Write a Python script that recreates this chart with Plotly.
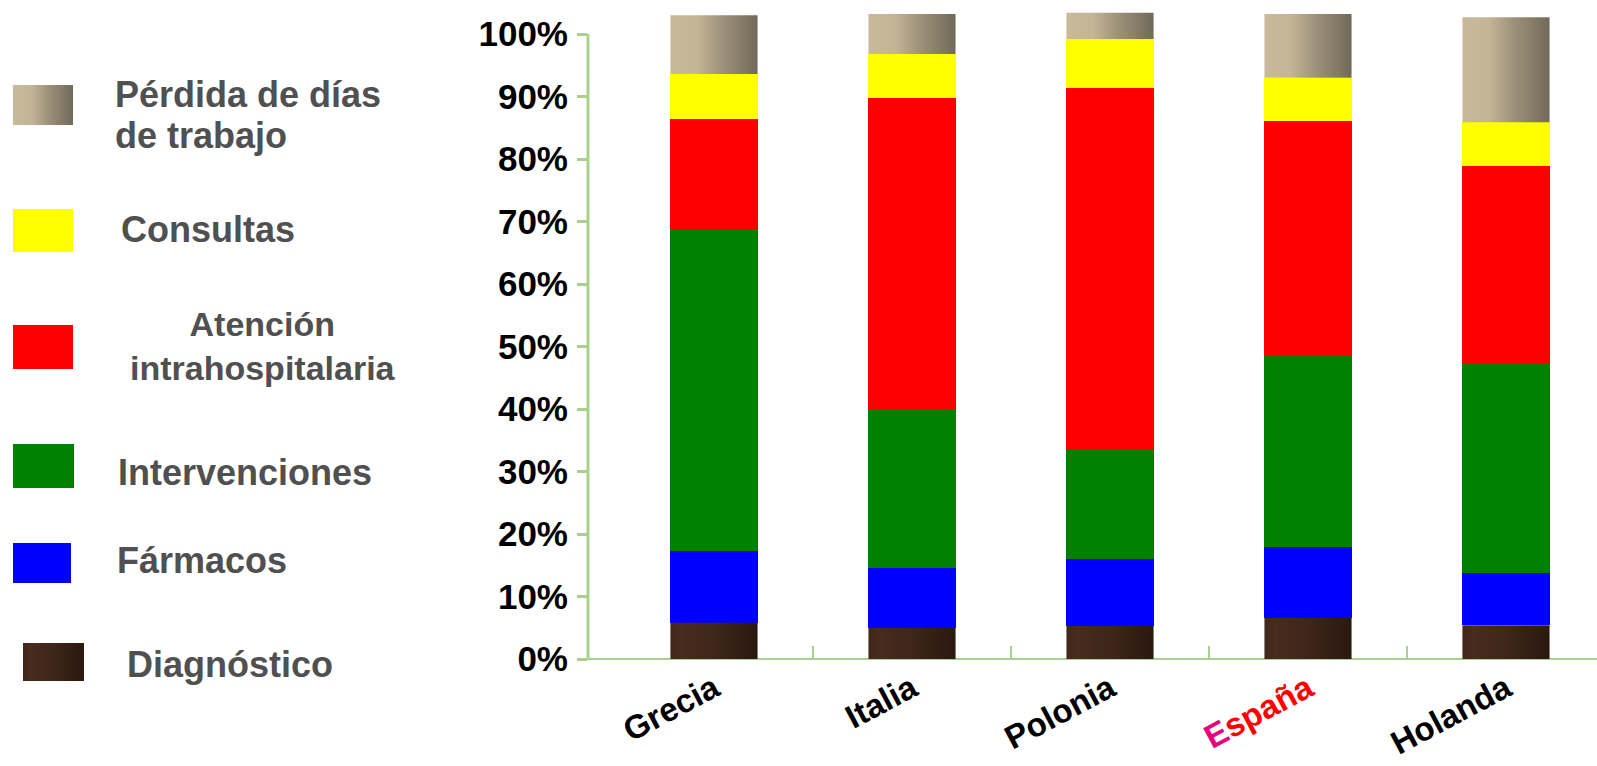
import plotly.graph_objects as go

# Cost breakdown (% of total) per country, stacked bottom to top
countries = ["Grecia", "Italia", "Polonia", "España", "Holanda"]
diagnostico = [5.8, 5.0, 5.3, 6.6, 5.4]
farmacos = [11.5, 9.6, 10.7, 11.3, 8.4]
intervenciones = [51.5, 25.3, 17.5, 30.8, 33.5]
atencion = [17.6, 49.9, 57.9, 37.4, 31.6]
consultas = [7.2, 7.0, 7.8, 6.9, 7.0]
perdida = [9.4, 6.4, 4.2, 10.2, 16.8]

y_ticks = [0, 10, 20, 30, 40, 50, 60, 70, 80, 90, 100]
y_tick_labels = [f"{v}%" for v in y_ticks]

FONT = "Arial, 'Liberation Sans', sans-serif"
AXIS_GREEN = "#a9d18e"
TEXT_GREY = "#505050"

GRAD_PERDIDA = [[0, "#c9b99b"], [0.3, "#c5b597"], [0.6, "#9c9079"], [1, "#716a59"]]
GRAD_DIAG = [[0, "#3f271b"], [0.12, "#482c1d"], [0.5, "#3e261b"], [1, "#2b180f"]]

# series in stacking order: (name, values, solid colour or gradient)
series = [
    ("Diagnóstico", diagnostico, None, GRAD_DIAG),
    ("Fármacos", farmacos, "#0000ff", None),
    ("Intervenciones", intervenciones, "#008000", None),
    ("Atención intrahospitalaria", atencion, "#ff0000", None),
    ("Consultas", consultas, "#ffff00", None),
    ("Pérdida de días de trabajo", perdida, None, GRAD_PERDIDA),
]

BAR_W = 0.44
W, H = 1597, 766
PLOT_BOTTOM = 660          # pixel row of the category axis
MARGIN_B = 85
PAPER_H = H - MARGIN_B
AXIS_LEFT = 588

fig = go.Figure()

xs = list(range(len(countries)))
base = [0.0] * len(countries)
for name, vals, color, grad in series:
    if grad is None:
        fig.add_trace(go.Bar(
            x=xs, y=vals, base=base[:], width=BAR_W, name=name,
            marker=dict(color=color, line=dict(width=0)),
            showlegend=False, xaxis="x", yaxis="y",
        ))
    else:
        # each gradient segment is a filled polygon so the shading spans one bar
        for i, v in enumerate(vals):
            b0, b1 = base[i], base[i] + v
            x0, x1 = xs[i] - BAR_W / 2, xs[i] + BAR_W / 2
            fig.add_trace(go.Scatter(
                x=[x0, x1, x1, x0, x0], y=[b0, b0, b1, b1, b0],
                mode="lines", line=dict(width=0), fill="toself",
                fillcolor=grad[1][1],
                fillgradient=dict(type="horizontal", colorscale=grad),
                showlegend=False, hoverinfo="skip", name=name,
                xaxis="x", yaxis="y",
            ))
    base = [b + v for b, v in zip(base, vals)]

# ---- legend panel drawn on its own pixel-scaled axes ----
legend_items = [
    # (label lines, swatch box x0,x1,y0,y1, text x, text centre y, anchor, size, colour/gradient)
    (["Pérdida de días", "de trabajo"], (13, 73, 85, 125), 113, [94, 135], "left", 36, GRAD_PERDIDA),
    (["Consultas"], (13, 73, 209, 252), 119, [229], "left", 36, "#ffff00"),
    (["Atención<br>intrahospitalaria"], (13, 73, 325, 369), 263, [346], "center", 34, "#ff0000"),
    (["Intervenciones"], (13, 74, 444, 488), 116, [472], "left", 36, "#008000"),
    (["Fármacos"], (13, 71, 543, 583), 115, [560], "left", 36, "#0000ff"),
    (["Diagnóstico"], (23, 84, 643, 681), 125, [664], "left", 36, GRAD_DIAG),
]

for lines, (bx0, bx1, by0, by1), tx, tys, anchor, fs, fillspec in legend_items:
    kw = dict(fillcolor=fillspec) if isinstance(fillspec, str) else dict(
        fillcolor=fillspec[1][1],
        fillgradient=dict(type="horizontal", colorscale=fillspec))
    fig.add_trace(go.Scatter(
        x=[bx0, bx1, bx1, bx0, bx0], y=[by0, by0, by1, by1, by0],
        mode="lines", line=dict(width=0), fill="toself",
        showlegend=False, hoverinfo="skip", xaxis="x2", yaxis="y2", **kw,
    ))
    for line, ty in zip(lines, tys):
        fig.add_annotation(
            x=tx, y=ty, xref="x2", yref="y2", text=f"<b>{line}</b>",
            showarrow=False, xanchor=anchor, yanchor="middle", align=anchor,
            font=dict(family=FONT, size=fs, color=TEXT_GREY),
        )

# ---- axes ----
px_per_cat = 198.0
x_min = -(714 - AXIS_LEFT) / px_per_cat
x_max = x_min + (W - AXIS_LEFT) / px_per_cat

px_per_pct = 6.25
zero_px = 659
y_top = zero_px / px_per_pct
y_bot = -(PLOT_BOTTOM - zero_px) / px_per_pct

tick_text = [c if c != "España" else
             '<span style="color:#e6007e">E</span><span style="color:#ff0000">spaña</span>'
             for c in countries]

fig.add_shape(type="line", xref="x domain", yref="y", x0=0, x1=0, y0=-1, y1=100,
              line=dict(color=AXIS_GREEN, width=3), layer="above")

fig.update_layout(
    width=W, height=H,
    margin=dict(l=0, r=0, t=0, b=MARGIN_B, autoexpand=False),
    paper_bgcolor="white", plot_bgcolor="white",
    bargap=0, barmode="overlay",
    xaxis=dict(
        domain=[AXIS_LEFT / W, 1], range=[x_min, x_max], automargin=False,
        tickmode="array", tickvals=xs, ticktext=[f"<b>{t}</b>" for t in tick_text],
        tickangle=-28, ticks="", showgrid=False, zeroline=False, showline=False,
        tickfont=dict(family=FONT, size=33, color="black"),
        ticklabelstandoff=2,
        minor=dict(tickmode="array", tickvals=[0.5, 1.5, 2.5, 3.5], ticks="inside",
                   ticklen=14, tickwidth=2, tickcolor=AXIS_GREEN, showgrid=False),
        fixedrange=True,
    ),
    yaxis=dict(
        domain=[(PAPER_H - PLOT_BOTTOM) / PAPER_H, 1], range=[y_bot, y_top],
        automargin=False,
        tickmode="array", tickvals=y_ticks, ticktext=[f"<b>{t}</b>" for t in y_tick_labels],
        ticks="outside", ticklen=10, tickwidth=3, tickcolor=AXIS_GREEN,
        showgrid=False, showline=False,
        zeroline=True, zerolinecolor=AXIS_GREEN, zerolinewidth=2,
        tickfont=dict(family=FONT, size=35, color="black"),
        ticklabelstandoff=2,
        fixedrange=True,
    ),
    xaxis2=dict(domain=[0, 575 / W], range=[0, 575], visible=False, fixedrange=True,
                automargin=False),
    yaxis2=dict(domain=[0, 1], range=[PAPER_H, 0], visible=False, fixedrange=True,
                anchor="x2", automargin=False),
)

fig.write_html("out.html")
